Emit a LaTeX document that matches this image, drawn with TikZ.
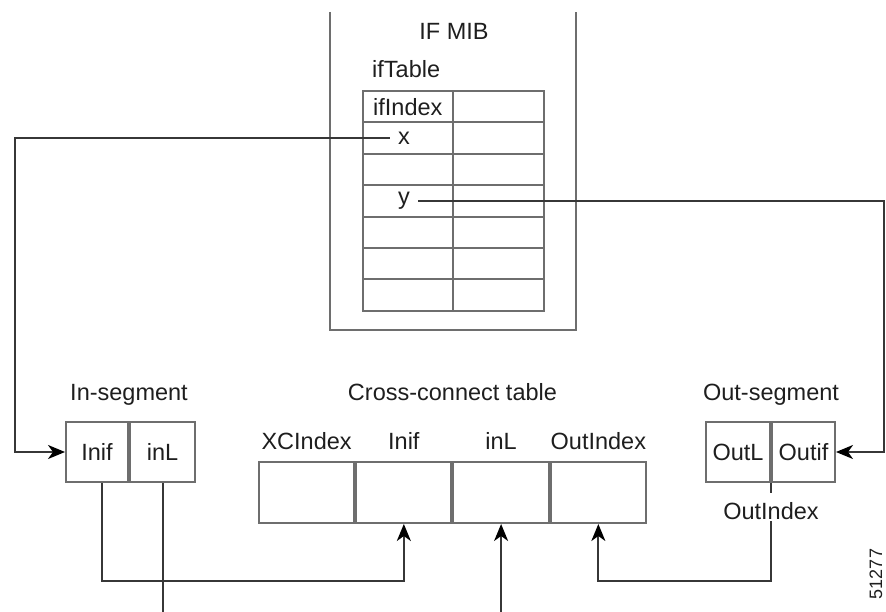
\documentclass[tikz,border=0pt]{standalone}
\usepackage{fontspec}
\setmainfont{Liberation Sans}
\usetikzlibrary{arrows.meta, positioning, calc}
\definecolor{boxgray}{RGB}{110,110,110}
\definecolor{wiregray}{RGB}{55,55,55}
\definecolor{txtgray}{RGB}{30,30,30}
\newcommand{\dgmfont}{\fontsize{23.5}{28}\selectfont}

\begin{document}
\begin{tikzpicture}[
    x=1pt, y=-1pt,
    cell/.style={draw=boxgray, line width=2pt, minimum height=60pt, inner sep=0pt, font=\dgmfont, text=txtgray},
    mibcell/.style={draw=boxgray, line width=2pt, minimum height=31.4pt, inner sep=0pt, anchor=north west},
    lbl/.style={font=\dgmfont, text=txtgray, inner sep=1pt},
    wire/.style={draw=wiregray, line width=2pt},
    arr/.style={wire, -{Stealth[length=17pt, width=14pt, inset=5pt, fill=black, color=black]}},
]
\useasboundingbox (0,0) rectangle (886,612);

% IF MIB frame (open at the top)
\draw[wire, draw=boxgray] (330,12) |- (576,330) -- (576,12);

% ifTable rows
\foreach \r in {0,...,6} {
  \node[mibcell, minimum width=90pt] (key\r) at (362, 90+31.4*\r) {};
  \node[mibcell, minimum width=91pt] (val\r) at (452, 90+31.4*\r) {};
}
\node[lbl, anchor=west] (ifindex) at ([xshift=10pt]key0.west) {ifIndex};
\node[lbl, inner sep=8pt] (mibx) at ([xshift=-4pt]key1.center) {x};
\node[lbl, inner sep=8pt] (miby) at ([xshift=-4pt]key3.center) {y};
\node[lbl, above right=11pt and 9pt of key0.north west] (iftable) {ifTable};
\node[lbl, above=49pt of key0.north east] (mibtitle) {IF MIB};

% In-segment
\node[cell, minimum width=62pt] (inif) at (97,452) {Inif};
\node[cell, minimum width=65pt, right=0pt of inif] (inl) {inL};
\node[lbl, above=14pt of inif.north east] (insegtitle) {In-segment};

% Cross-connect table
\node[cell, minimum width=95.25pt, minimum height=61pt] (xcidx) at (306.6,492.5) {};
\node[cell, minimum width=95.25pt, minimum height=61pt, right=0pt of xcidx] (xcinif) {};
\node[cell, minimum width=95.25pt, minimum height=61pt, right=0pt of xcinif] (xcinl) {};
\node[cell, minimum width=95.25pt, minimum height=61pt, right=0pt of xcinl] (xcout) {};
\node[lbl, above=10.5pt of xcidx] {XCIndex};
\node[lbl, above=10.5pt of xcinif] {Inif};
\node[lbl, above=10.5pt of xcinl] {inL};
\node[lbl, above=10.5pt of xcout] {OutIndex};
\node[lbl, above=59.5pt of xcinif.north east] (xctitle) {Cross-connect table};

% Out-segment
\node[cell, minimum width=64pt] (outl) at (738,452) {OutL};
\node[cell, minimum width=63pt, right=0pt of outl] (outif) {Outif};
\node[lbl, above=14pt of outl.north east] (outsegtitle) {Out-segment};
\node[lbl, below=18.5pt of outl.south east] (outidxlbl) {OutIndex};

% figure number
\node[font=\fontsize{18}{20}\selectfont, text=txtgray, rotate=90, inner sep=0pt] (figno) at (876,574) {51277};

% rails and bus lines
\coordinate (bus) at (0,581);
\coordinate (floor) at (0,612);
\coordinate (leftrail) at (15,0);
\coordinate (rightrail) at (884,0);

\draw[arr] (mibx.west) -| (leftrail |- inif.west) -- (inif.west);
\draw[arr] (miby.east) -| (rightrail |- outif.east) -- (outif.east);
\draw[arr] ([xshift=5pt]inif.south) |- (xcinif.south |- bus) -- (xcinif.south);
\draw[wire] (inl.south) -- (inl.south |- floor);
\draw[arr] (xcinl.south |- floor) -- (xcinl.south);
\draw[wire] (outl.south east) -- ++(0,10);
\draw[arr] (outidxlbl.south) |- (xcout.south |- bus) -- (xcout.south);

\end{tikzpicture}
\end{document}
